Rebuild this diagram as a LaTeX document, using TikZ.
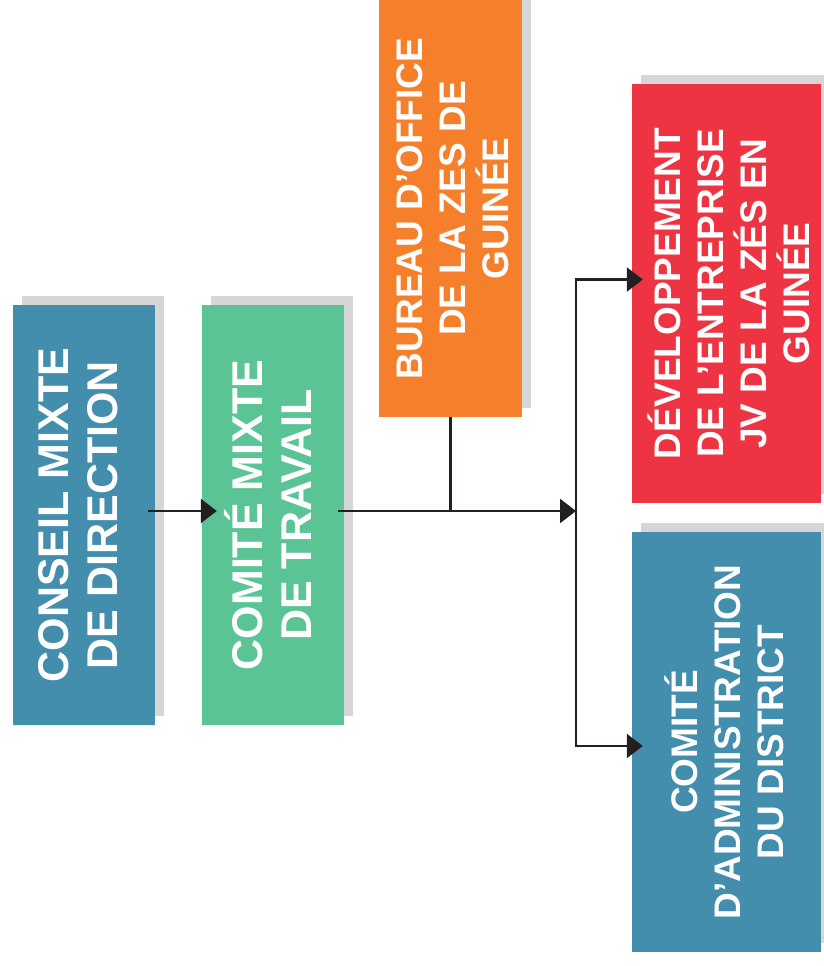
\documentclass[tikz,border=0pt]{standalone}
\usepackage{fontspec}
\setmainfont{Liberation Sans}
\usepackage{graphicx}
\usetikzlibrary{arrows.meta,backgrounds}

\definecolor{myblue}{RGB}{67,141,173}
\definecolor{mygreen}{RGB}{91,196,148}
\definecolor{myorange}{RGB}{245,127,42}
\definecolor{myred}{RGB}{238,52,66}
\definecolor{myshadow}{RGB}{214,214,214}
\definecolor{mydark}{RGB}{35,31,32}

% text turned upwards in a box, moved left by the optional argument
\newcommand{\vlabel}[2][0pt]{\rotatebox{90}{\raisebox{#1}[\height][\depth]{\parbox{400pt}{\centering #2}}}}

\begin{document}
\begin{tikzpicture}[x=1pt, y=-1pt,
	box/.style={rectangle, inner sep=0pt, text=white},
	big/.style={font=\bfseries\fontsize{43}{49}\selectfont},
	small/.style={font=\bfseries\fontsize{37}{43}\selectfont},
	link/.style={line width=2.5pt, draw=mydark},
	arr/.style={link, -{Triangle[length=16pt,width=24pt]}}]

	\useasboundingbox (0,0) rectangle (824,966);

	% boxes
	\node[box, big, fill=myblue, minimum width=142pt, minimum height=420pt] (b1) at (84,515)
		{\vlabel[6pt]{CONSEIL MIXTE\\DE DIRECTION}};
	\node[box, big, fill=mygreen, minimum width=142pt, minimum height=420pt] (b2) at (273,515)
		{\vlabel[5pt]{COMITÉ MIXTE\\DE TRAVAIL}};
	\node[box, small, fill=myorange, minimum width=143pt, minimum height=417pt] (b3) at (450.5,208.5)
		{\vlabel[-2pt]{BUREAU D’OFFICE\\DE LA ZES DE\\GUINÉE}};
	\node[box, small, fill=myred, minimum width=189pt, minimum height=419pt] (b4) at (726.5,293.5)
		{\vlabel[-2pt]{DÉVELOPPEMENT\\DE L’ENTREPRISE\\JV DE LA ZÉS EN\\GUINÉE}};
	\node[box, small, fill=myblue, minimum width=189pt, minimum height=420pt] (b5) at (726.5,742)
		{\vlabel[2pt]{COMITÉ\\D’ADMINISTRATION\\DU DISTRICT}};

	% shadows
	\begin{scope}[on background layer]
		\foreach \i in {1,...,5}
			\fill[myshadow] ([shift={(9,-9)}]b\i.south west) rectangle ([shift={(9,-9)}]b\i.north east);
	\end{scope}

	% connectors
	\coordinate (j) at (576,511);
	\draw[arr] ([xshift=-7pt]b1.east |- j) -- ([xshift=15pt]b2.west |- j);
	\draw[arr] ([xshift=-6pt]b2.east |- j) -- (j);
	\draw[link] (b3.south) -- (b3.south |- j);
	\draw[arr] (j) |- ([xshift=11pt,yshift=14pt]b4.west);
	\draw[arr] (j) |- ([xshift=11pt,yshift=-4pt]b5.west);

\end{tikzpicture}
\end{document}
